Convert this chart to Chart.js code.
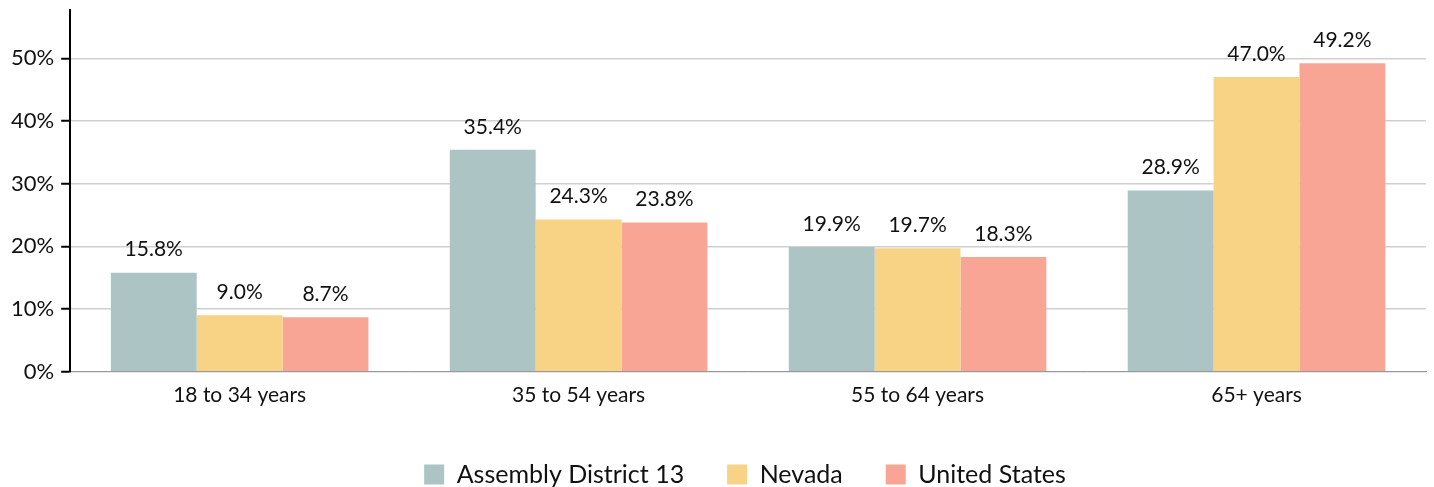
<!DOCTYPE html>
<html><head><meta charset="utf-8">
<script src="https://cdn.jsdelivr.net/npm/chart.js@4.4.0/dist/chart.umd.min.js"></script>
<style>html,body{margin:0;padding:0;background:#fff;}#wrap{width:1434px;height:487px;}</style>
</head><body><div id="wrap"><canvas id="c" width="1434" height="487"></canvas></div>
<script>
const categories = ["18 to 34 years", "35 to 54 years", "55 to 64 years", "65+ years"];
const district13 = [15.8, 35.4, 19.9, 28.9];
const nevada = [9.0, 24.3, 19.7, 47.0];
const unitedStates = [8.7, 23.8, 18.3, 49.2];
const seriesNames = ["Assembly District 13", "Nevada", "United States"];
const colors = ["#adc4c5", "#f8d386", "#f8a596"];
const FONT = "Lato, 'Open Sans', sans-serif";

const labelPlugin = {
  id: 'valueLabels',
  afterDatasetsDraw(chart) {
    const ctx = chart.ctx;
    ctx.save();
    ctx.font = "21px " + FONT;
    ctx.fillStyle = "#111";
    ctx.textAlign = "center";
    ctx.textBaseline = "middle";
    chart.data.datasets.forEach((ds, i) => {
      chart.getDatasetMeta(i).data.forEach((bar, j) => {
        ctx.fillText(ds.data[j].toFixed(1) + "%", bar.x, bar.y - 23);
      });
    });
    ctx.restore();
  }
};

const legendShift = {
  id: 'legendShift',
  afterLayout(chart) {
    if (chart.legend) {
      chart.legend.left += 30;
      chart.legend.right += 30;
    }
  }
};

new Chart(document.getElementById('c'), {
  type: 'bar',
  data: {
    labels: categories,
    datasets: [
      { label: seriesNames[0], data: district13, backgroundColor: colors[0] },
      { label: seriesNames[1], data: nevada, backgroundColor: colors[1] },
      { label: seriesNames[2], data: unitedStates, backgroundColor: colors[2] }
    ]
  },
  options: {
    responsive: false,
    animation: false,
    layout: { padding: { top: 10, right: 8, left: 4, bottom: -10 } },
    datasets: { bar: { categoryPercentage: 0.76, barPercentage: 1.0 } },
    plugins: {
      tooltip: { enabled: false },
      legend: {
        position: 'bottom',
        labels: {
          font: { family: FONT, size: 25 },
          color: "#111",
          boxWidth: 20, boxHeight: 20,
          padding: 43
        }
      }
    },
    scales: {
      x: {
        grid: { display: false, drawTicks: false },
        border: { color: "#999", width: 1 },
        ticks: { font: { family: FONT, size: 21 }, color: "#111", padding: 11 }
      },
      y: {
        min: 0, max: 57.7,
        afterFit: (scale) => { scale.paddingTop = 0; },
        border: { color: "#000", width: 2 },
        grid: { color: "#d0d0d0", lineWidth: 1.5, tickColor: "#000", tickLength: 9, tickWidth: 2 },
        ticks: {
          stepSize: 10,
          font: { family: FONT, size: 22 },
          color: "#111",
          padding: 7,
          callback: (v) => (Math.abs(v % 10) < 1e-9 ? v + "%" : null)
        }
      }
    }
  },
  plugins: [labelPlugin, legendShift]
});
</script></body></html>
